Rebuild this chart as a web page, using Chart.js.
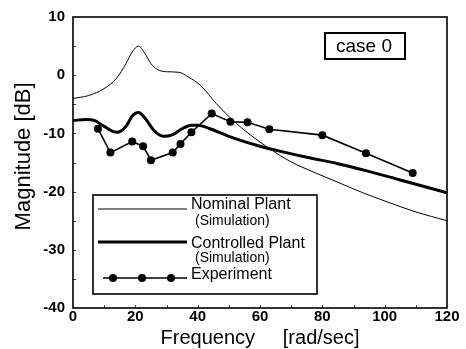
<!DOCTYPE html>
<html>
<head>
<meta charset="utf-8">
<script src="https://cdn.jsdelivr.net/npm/chart.js@4/dist/chart.umd.min.js"></script>
<style>
html,body{margin:0;padding:0;background:#fff;}
#wrap{width:466px;height:349px;}
</style>
</head>
<body>
<div id="wrap"><canvas id="c" width="466" height="349"></canvas></div>
<script>
// ---- data ----
const nominalFreq = [0,5,10,14,17,19,21,23,25,27,30,34,37,41,46,51,57,63,70,77,85,93,100,110,120];
const nominalMag  = [-4,-3.5,-2.3,-0.5,2,4,5,3.8,2,1,0.6,0.5,-0.3,-1.8,-4.9,-7.6,-10.3,-12.6,-14.9,-16.6,-18.4,-20.2,-21.6,-23.5,-25];
const controlledFreq = [0,4,7,10,14,17,19,21,23,26,29,32,35,38,40,44,50,60,66,75,85,94,105,120];
const controlledMag  = [-7.8,-7.6,-7.8,-8.8,-9.8,-8.8,-7,-6.4,-7.3,-9.5,-10.5,-10.2,-9.2,-8.6,-8.6,-9.2,-10.5,-12.2,-13,-14.1,-15.2,-16.4,-18,-20.2];
const expFreq = [8,12,19,22.5,25,32,34.5,38,44.5,50.5,56,63,80,94,109];
const expMag  = [-9.2,-13.3,-11.4,-12.2,-14.6,-13.3,-11.8,-9.8,-6.6,-8,-8.1,-9.3,-10.3,-13.4,-16.8];
const seriesNames = ["Nominal Plant","Controlled Plant","Experiment"];
const seriesSub = ["(Simulation)","(Simulation)",""];
const xTitle = "Frequency     [rad/sec]";
const yTitle = "  Magnitude [dB]";
const caseLabel = "case 0";

const FONT = "'Liberation Sans', Arial, Helvetica, sans-serif";
const pts = (xs, ys) => xs.map((x, i) => ({x: x, y: ys[i]}));

const decor = {
  id: 'decor',
  afterDraw(chart) {
    const ctx = chart.ctx;
    const a = chart.chartArea;
    const xs = chart.scales.x, ys = chart.scales.y;
    ctx.save();
    // minor ticks inside
    ctx.strokeStyle = '#444';
    ctx.lineWidth = 1;
    for (let v = 10; v < 120; v += 10) {
      const px = Math.round(xs.getPixelForValue(v)) + 0.5;
      ctx.beginPath(); ctx.moveTo(px, a.bottom); ctx.lineTo(px, a.bottom - 3); ctx.stroke();
    }
    for (let v = -35; v < 10; v += 5) {
      const py = Math.round(ys.getPixelForValue(v)) + 0.5;
      ctx.beginPath(); ctx.moveTo(a.left, py); ctx.lineTo(a.left + 3, py); ctx.stroke();
    }
    // frame
    ctx.strokeStyle = '#000';
    ctx.lineWidth = 1.6;
    ctx.strokeRect(a.left, a.top, a.right - a.left, a.bottom - a.top);

    // legend box
    const lx = 93, ly = 195, lw = 224, lh = 99;
    ctx.fillStyle = '#fff';
    ctx.fillRect(lx, ly, lw, lh);
    ctx.lineWidth = 1.6;
    ctx.strokeRect(lx, ly, lw, lh);
    const ds = chart.data.datasets;
    const rows = [
      {ly: 209, ty: 205, sy: 221, x0: 98},
      {ly: 242, ty: 244, sy: 258, x0: 98},
      {ly: 278, ty: 275, sy: 0, x0: 103}
    ];
    rows.forEach((r, i) => {
      const d = ds[i];
      ctx.strokeStyle = d.borderColor;
      ctx.lineWidth = d.borderWidth;
      ctx.beginPath(); ctx.moveTo(r.x0, r.ly); ctx.lineTo(187, r.ly); ctx.stroke();
      if (i === 2) {
        ctx.fillStyle = '#000';
        [113, 142, 171].forEach(mx => { ctx.beginPath(); ctx.arc(mx, r.ly, 4, 0, Math.PI * 2); ctx.fill(); });
      }
      ctx.fillStyle = '#000';
      ctx.textBaseline = 'middle';
      ctx.textAlign = 'left';
      ctx.font = '16px ' + FONT;
      ctx.fillText(seriesNames[i], 191, r.ty);
      if (seriesSub[i]) {
        ctx.font = '14px ' + FONT;
        ctx.fillText(seriesSub[i], 195, r.sy);
      }
    });

    // case box
    ctx.lineWidth = 2;
    ctx.strokeStyle = '#000';
    ctx.fillStyle = '#fff';
    ctx.fillRect(325, 33, 80, 26);
    ctx.strokeRect(325, 33, 80, 26);
    ctx.fillStyle = '#000';
    ctx.font = '19px ' + FONT;
    ctx.textAlign = 'center';
    ctx.textBaseline = 'middle';
    ctx.fillText(caseLabel, 364, 46.5);
    ctx.restore();
  }
};

new Chart(document.getElementById('c'), {
  type: 'line',
  data: {
    datasets: [
      {label: seriesNames[0], data: pts(nominalFreq, nominalMag), borderColor: '#000', borderWidth: 1, pointRadius: 0, cubicInterpolationMode: 'monotone', fill: false},
      {label: seriesNames[1], data: pts(controlledFreq, controlledMag), borderColor: '#000', borderWidth: 3, pointRadius: 0, cubicInterpolationMode: 'monotone', fill: false},
      {label: seriesNames[2], data: pts(expFreq, expMag), borderColor: '#000', borderWidth: 1.6, pointRadius: 4, pointBackgroundColor: '#000', pointBorderColor: '#000', pointBorderWidth: 0, tension: 0, fill: false}
    ]
  },
  options: {
    responsive: false,
    animation: false,
    devicePixelRatio: 1,
    layout: {padding: {left: 0, top: 14, right: 19, bottom: 0}},
    plugins: {legend: {display: false}, tooltip: {enabled: false}},
    scales: {
      x: {
        type: 'linear', min: 0, max: 120,
        ticks: {stepSize: 20, padding: 0, color: '#000', font: {family: FONT, size: 15, weight: 'bold'}, maxRotation: 0},
        grid: {display: false, drawTicks: false},
        border: {display: false},
        title: {display: true, text: xTitle, color: '#000', font: {family: FONT, size: 20, lineHeight: 1}, padding: {top: 0, bottom: 1}},
        afterFit: s => { s.height = 41; }
      },
      y: {
        type: 'linear', min: -40, max: 10,
        ticks: {stepSize: 10, padding: 8, color: '#000', font: {family: FONT, size: 15, weight: 'bold'}},
        grid: {display: false, drawTicks: false},
        border: {display: false},
        title: {display: true, text: yTitle, color: '#000', font: {family: FONT, size: 22, lineHeight: 1}, padding: {top: 13, bottom: 0}},
        afterFit: s => { s.width = 73; }
      }
    }
  },
  plugins: [decor]
});
</script>
</body>
</html>
